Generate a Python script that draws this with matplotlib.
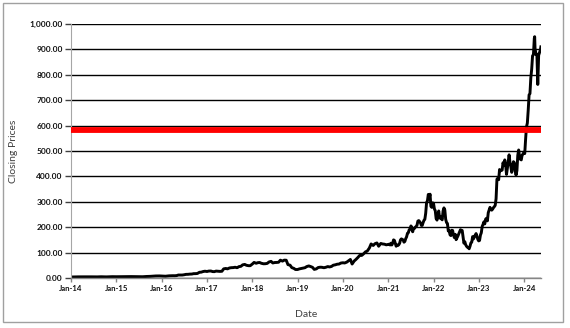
import matplotlib
matplotlib.use("Agg")
import matplotlib.pyplot as plt
import matplotlib.dates as mdates
from matplotlib.patches import Rectangle
from matplotlib.ticker import FuncFormatter, MultipleLocator
import pandas as pd

# Semi-monthly closes 2014-2020 (two values per month)
prices_2014_2020 = [
    # 2014
    3.9, 4.1, 4.2, 4.5, 4.5, 4.4, 4.6, 4.6, 4.7, 4.8, 4.8, 4.6,
    4.5, 4.3, 4.4, 4.8, 4.9, 4.6, 4.5, 4.4, 4.8, 5.1, 5.2, 5.0,
    # 2015
    5.0, 5.1, 5.2, 5.7, 5.6, 5.3, 5.3, 5.5, 5.6, 5.5, 5.5, 5.0,
    5.0, 4.8, 5.0, 5.6, 6.0, 6.2, 6.5, 7.1, 7.6, 8.0, 8.3, 8.2,
    # 2016
    7.8, 7.3, 7.0, 7.8, 8.5, 8.9, 9.0, 8.9, 9.4, 11.7, 11.6, 11.7,
    12.8, 14.3, 14.5, 15.3, 15.6, 17.1, 17.2, 17.8, 22.5, 23.0, 25.5, 26.7,
    # 2017
    25.6, 27.3, 27.5, 25.3, 25.0, 27.2, 26.5, 26.0, 26.5, 36.0, 37.5, 36.0,
    39.5, 40.6, 41.0, 42.3, 40.5, 44.7, 46.0, 51.7, 53.5, 50.0, 48.5, 48.4,
    # 2018
    55.0, 61.3, 58.0, 60.4, 61.0, 57.9, 56.0, 56.2, 57.5, 63.0, 65.5, 59.2,
    61.0, 61.2, 62.0, 70.2, 66.5, 70.3, 70.0, 52.7, 50.5, 40.9, 38.0, 33.4,
    # 2019
    33.5, 35.9, 37.5, 38.4, 40.5, 44.9, 47.5, 45.2, 42.0, 33.9, 36.0, 41.1,
    42.5, 42.2, 40.5, 42.0, 45.0, 43.5, 45.5, 50.3, 52.0, 54.2, 55.0, 58.8,
    # 2020
    60.0, 59.1, 62.5, 67.5, 73.0, 55.0, 67.0, 73.1, 81.0, 88.8, 89.0, 95.0,
    103.0, 106.0, 118.0, 134.0, 128.0, 135.0, 138.0, 125.0, 136.0, 134.0, 133.0, 130.6,
]

# Weekly (Friday) closes 2021-2023
prices_2021 = [133, 130, 137, 130, 137, 150, 148, 137, 125, 130, 128, 131,
               137, 150, 154, 152, 150, 141, 144, 155, 162, 176, 178, 190, 192,
               205, 200, 182, 195, 195, 200, 203, 208, 224, 226, 222, 217, 207,
               207, 218, 227, 231, 255, 297, 304, 329, 315, 330, 282, 278, 296, 294]
prices_2022 = [272, 265, 234, 228, 246, 264, 236, 241, 233, 229, 264, 276,
               268, 231, 218, 215, 185, 187, 170, 167, 188, 187, 169, 159, 172,
               151, 158, 165, 173, 181, 190, 188, 187, 162, 137, 143, 131, 125, 121,
               120, 115, 125, 138, 141, 163, 154, 162, 169, 175, 165, 152, 146]
prices_2023 = [148, 169, 178, 203, 211, 221, 213, 232, 235, 225, 257, 267, 278,
               270, 267, 271, 277, 281, 286, 312, 389, 393, 387, 427, 422, 423,
               425, 454, 444, 465, 446, 408, 432, 460, 485, 455, 439, 416, 435,
               458, 454, 421, 405, 423, 483, 504, 478, 467, 465, 484, 488, 495]

# Weekly closes 2024
dates_2024 = ["2024-01-05", "2024-01-12", "2024-01-19", "2024-01-26", "2024-02-02",
              "2024-02-09", "2024-02-16", "2024-02-23", "2024-03-01", "2024-03-08",
              "2024-03-15", "2024-03-22", "2024-03-25", "2024-03-28", "2024-04-05",
              "2024-04-12", "2024-04-19", "2024-04-26", "2024-05-03", "2024-05-10",
              "2024-05-14"]
prices_2024 = [490, 547, 595, 610, 661, 721, 726, 788, 822, 875, 879, 943, 950,
               903, 880, 881, 762, 877, 888, 898, 910]

reference_level = 583.0

weekly_prices = prices_2021 + prices_2022 + prices_2023
dates = (list(pd.date_range("2014-01-01", periods=len(prices_2014_2020), freq="SMS"))
         + list(pd.date_range("2021-01-08", periods=len(weekly_prices), freq="W-FRI"))
         + list(pd.to_datetime(dates_2024)))
prices = prices_2014_2020 + weekly_prices + prices_2024

plt.rcParams['font.family'] = ['Lato', 'DejaVu Sans']

fig = plt.figure(figsize=(5.70, 3.28), dpi=100)
ax = fig.add_axes([71/570, 1-278/328, (541-71)/570, (278-24)/328])

ax.set_ylim(0, 1000)
ax.set_xlim(pd.Timestamp("2014-01-01"), pd.Timestamp("2024-05-15"))
ax.yaxis.set_major_locator(MultipleLocator(100))
ax.yaxis.set_major_formatter(FuncFormatter(lambda v, p: f"{v:,.2f}"))
ax.xaxis.set_major_locator(mdates.YearLocator(month=1, day=1))
ax.xaxis.set_major_formatter(mdates.DateFormatter("%b-%y"))

ax.grid(axis='y', color='black', linewidth=1.0)
ax.set_axisbelow(True)
for s in ['top', 'right']:
    ax.spines[s].set_visible(False)
ax.spines['bottom'].set_color('#868686')
ax.spines['bottom'].set_linewidth(1.0)
ax.spines['left'].set_color('#A6A6A6')
ax.spines['left'].set_linewidth(0.8)

ax.tick_params(axis='y', length=4, width=1, color='#404040', labelsize=6.0, pad=2, labelcolor='#111111')
ax.tick_params(axis='x', length=3, width=1, color='#868686', labelsize=5.6, pad=2, labelcolor='#111111')
for lab in ax.get_yticklabels() + ax.get_xticklabels():
    lab.set_fontweight('bold')

ax.plot(dates, prices, color='black', linewidth=2.1, solid_joinstyle='round')
ax.plot([dates[0], dates[-1]], [reference_level, reference_level], color='#FF0000',
        linewidth=4.2, solid_capstyle='round', zorder=3)

ax.set_xlabel("Date", fontsize=7.5, color='#404040', labelpad=13)
ax.set_ylabel("Closing Prices", fontsize=7.5, color='#404040', labelpad=8)

fig.patches.append(Rectangle((3/570, 6/328), 560/570, 319/328, transform=fig.transFigure,
                             fill=False, edgecolor='#A0A0A0', linewidth=1.0))

fig.savefig("out.png", dpi=100)
